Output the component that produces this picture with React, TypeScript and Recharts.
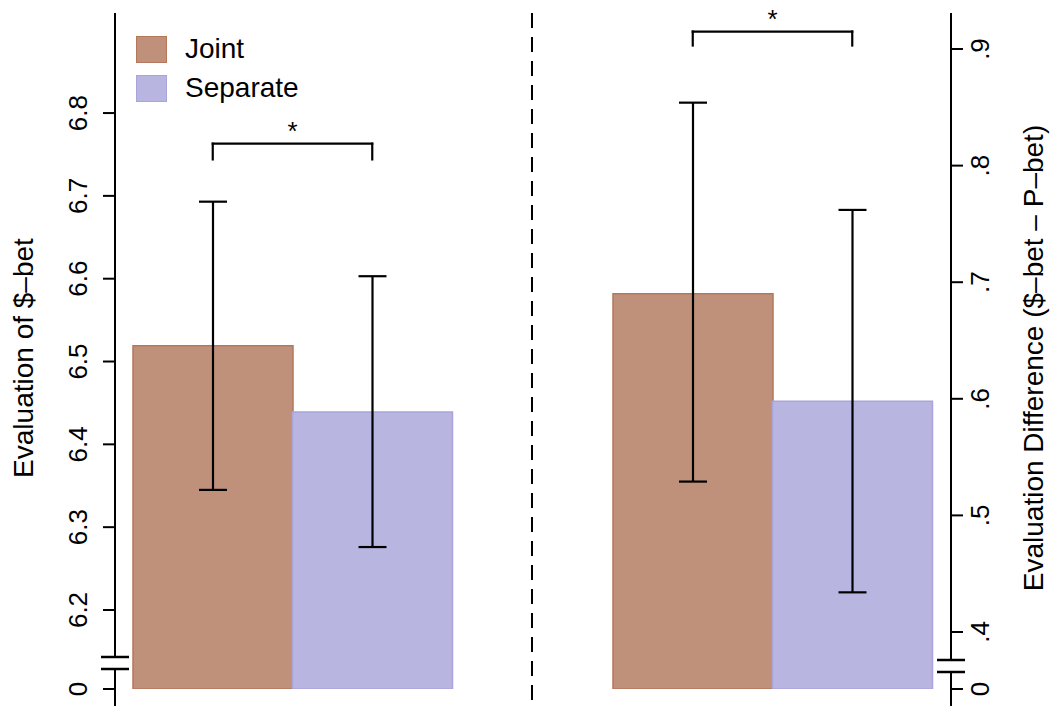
import React from 'react';
import { BarChart, Bar, Cell, XAxis, YAxis, ErrorBar, ReferenceLine } from 'recharts';

const FONT = '"Liberation Sans", Arial, Helvetica, sans-serif';

// groups (shared by both panels)
const groups = ['Joint', 'Separate'];
const fills = ['#c0917a', '#b8b6e1'];
const strokes = ['#b4775c', '#a9a4dc'];

// left panel: evaluation of $-bet
const levelMean = [6.519, 6.439];
const levelLow = [6.345, 6.276];
const levelHigh = [6.693, 6.603];
const levelTicks = [6.2, 6.3, 6.4, 6.5, 6.6, 6.7, 6.8];

// right panel: evaluation difference ($-bet - P-bet)
const diffMean = [0.69, 0.598];
const diffLow = [0.529, 0.434];
const diffHigh = [0.854, 0.762];
const diffTicks = [0.4, 0.5, 0.6, 0.7, 0.8, 0.9];

// significance brackets [leg bottom, bar]
const levelBracket = [6.744, 6.763];
const diffBracket = [0.903, 0.915];

// broken axes: the bottom of each axis stands for 0
const LEVEL_MIN = 6.1046;
const LEVEL_MAX = 6.9208;
const DIFF_MIN = 0.3511;
const DIFF_MAX = 0.9309;

const levelData = groups.map((g, i) => ({
  group: g,
  value: levelMean[i],
  err: [levelMean[i] - levelLow[i], levelHigh[i] - levelMean[i]],
}));

const diffData = groups.map((g, i) => ({
  group: g,
  value: diffMean[i],
  err: [diffMean[i] - diffLow[i], diffHigh[i] - diffMean[i]],
}));

const margin = { top: 13, right: 0, bottom: 17, left: 0 };
const black = { stroke: '#000', strokeWidth: 2 };

const leftTick = (p: any) => {
  const v = p.payload.value;
  const label = v === LEVEL_MIN ? '0' : v.toFixed(1);
  const x = p.x - 16;
  return (
    <text x={x} y={p.y} transform={`rotate(-90 ${x} ${p.y})`} textAnchor="middle"
      fontSize={26} fontFamily={FONT} fill="#000">{label}</text>
  );
};

const rightTick = (p: any) => {
  const v = p.payload.value;
  const label = v === DIFF_MIN ? '0' : v.toFixed(1).replace(/^0/, '');
  const x = p.x + 26;
  return (
    <text x={x} y={p.y} transform={`rotate(-90 ${x} ${p.y})`} textAnchor="middle"
      fontSize={26} fontFamily={FONT} fill="#000">{label}</text>
  );
};

const bracket = (ys: number[]) => {
  const line = { stroke: '#000', strokeWidth: 2.2, strokeLinecap: 'square' as const, ifOverflow: 'visible' as const };
  return [
    <ReferenceLine key="h" {...line}
      segment={[{ x: groups[0], y: ys[1] }, { x: groups[1], y: ys[1] }]}
      label={{ value: '*', position: 'top', offset: 4, fontSize: 26, fill: '#000', fontFamily: FONT }} />,
    <ReferenceLine key="l" {...line}
      segment={[{ x: groups[0], y: ys[0] }, { x: groups[0], y: ys[1] }]} />,
    <ReferenceLine key="r" {...line}
      segment={[{ x: groups[1], y: ys[0] }, { x: groups[1], y: ys[1] }]} />,
  ];
};

const bars = () => (
  <Bar dataKey="value" isAnimationActive={false} strokeWidth={1.5}>
    {groups.map((g, i) => (
      <Cell key={g} fill={fills[i]} stroke={strokes[i]} />
    ))}
    <ErrorBar dataKey="err" direction="y" width={14} stroke="#000" strokeWidth={2.2} isAnimationActive={false} />
  </Bar>
);

const Overlay = () => (
  <svg width={1055} height={706} style={{ position: 'absolute', left: 0, top: 0, pointerEvents: 'none' }}>
    {/* divider */}
    <line x1={532} y1={13} x2={532} y2={706} stroke="#000" strokeWidth={2} strokeDasharray="15 9" />
    {/* axis lines below the zero tick */}
    <line x1={115} y1={688} x2={115} y2={706} {...black} />
    <line x1={951} y1={688} x2={951} y2={706} {...black} />
    {/* axis breaks */}
    <rect x={110} y={658} width={10} height={10} fill="#fff" />
    <line x1={101} y1={657} x2={129} y2={657} stroke="#000" strokeWidth={2.5} />
    <line x1={101} y1={669} x2={129} y2={669} stroke="#000" strokeWidth={2.5} />
    <rect x={946} y={661} width={10} height={10} fill="#fff" />
    <line x1={937} y1={660} x2={965} y2={660} stroke="#000" strokeWidth={2.5} />
    <line x1={937} y1={672} x2={965} y2={672} stroke="#000" strokeWidth={2.5} />
    {/* axis titles */}
    <text x={33} y={358} transform="rotate(-90 33 358)" textAnchor="middle" fontSize={28}
      fontFamily={FONT} fill="#000">Evaluation of $–bet</text>
    <text x={1043} y={358} transform="rotate(-90 1043 358)" textAnchor="middle" fontSize={28}
      fontFamily={FONT} fill="#000">Evaluation Difference ($–bet – P–bet)</text>
  </svg>
);

const LegendBox = () => (
  <div style={{ position: 'absolute', left: 136, top: 35, fontFamily: FONT, fontSize: 28, color: '#000' }}>
    {groups.map((g, i) => (
      <div key={g} style={{ display: 'flex', alignItems: 'center', height: 28, marginBottom: 11 }}>
        <div style={{ width: 29, height: 25, background: fills[i], border: `1.5px solid ${strokes[i]}` }} />
        <span style={{ marginLeft: 18, lineHeight: '28px' }}>{g}</span>
      </div>
    ))}
  </div>
);

export default function App() {
  return (
    <div style={{ position: 'absolute', left: 0, top: 0, width: 1055, height: 706, background: '#fff' }}>
      <div style={{ position: 'absolute', left: 0, top: 0 }}>
        <BarChart width={532} height={706} data={levelData} margin={margin} barCategoryGap={0}>
          <XAxis dataKey="group" hide padding={{ left: 18, right: 80 }} />
          <YAxis type="number" domain={[LEVEL_MIN, LEVEL_MAX]} allowDataOverflow
            ticks={[LEVEL_MIN, ...levelTicks]} interval={0} width={115}
            tickSize={12} tickMargin={0} axisLine={black} tickLine={black} tick={leftTick} />
          {bars()}
          {bracket(levelBracket)}
        </BarChart>
      </div>
      <div style={{ position: 'absolute', left: 532, top: 0 }}>
        <BarChart width={523} height={706} data={diffData} margin={margin} barCategoryGap={0}>
          <XAxis dataKey="group" hide padding={{ left: 81, right: 19 }} />
          <YAxis type="number" orientation="right" domain={[DIFF_MIN, DIFF_MAX]} allowDataOverflow
            ticks={[DIFF_MIN, ...diffTicks]} interval={0} width={104}
            tickSize={12} tickMargin={0} axisLine={black} tickLine={black} tick={rightTick} />
          {bars()}
          {bracket(diffBracket)}
        </BarChart>
      </div>
      <LegendBox />
      <Overlay />
    </div>
  );
}
